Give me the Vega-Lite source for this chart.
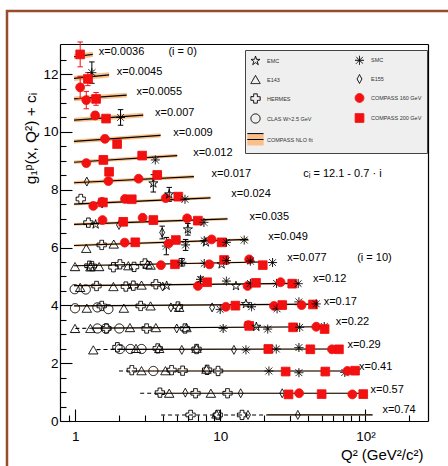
{
 "$schema": "https://vega.github.io/schema/vega-lite/v6.json",
 "width": 441, "height": 455,
 "autosize": {"type": "none"},
 "padding": {"left": 7, "top": 11, "right": 0, "bottom": 0},
 "background": "white",
 "config": {
  "font": "Liberation Sans",
  "view": {"stroke": "#9c4a2c", "strokeWidth": 2.5, "strokeDash": [441, 896, 455]},
  "axis": {"grid": false, "domainColor": "black", "tickColor": "black", "labelColor": "black", "titleColor": "black", "labelFont": "Liberation Sans", "titleFont": "Liberation Sans", "titleFontWeight": "normal", "domainWidth": 1.2, "tickWidth": 1.1}
 },
 "datasets": {
  "fits": [
   {"bin":0,"seg":"fit","q":0.98,"y":12.60,"lo":12.51,"hi":12.69},{"bin":0,"seg":"fit","q":1.32,"y":12.68,"lo":12.59,"hi":12.77},
   {"bin":1,"seg":"fit","q":0.98,"y":11.85,"lo":11.76,"hi":11.94},{"bin":1,"seg":"fit","q":1.71,"y":11.97,"lo":11.88,"hi":12.06},
   {"bin":2,"seg":"fit","q":0.98,"y":11.14,"lo":11.06,"hi":11.22},{"bin":2,"seg":"fit","q":2.26,"y":11.27,"lo":11.19,"hi":11.35},
   {"bin":3,"seg":"fit","q":0.98,"y":10.41,"lo":10.33,"hi":10.49},{"bin":3,"seg":"fit","q":2.94,"y":10.58,"lo":10.50,"hi":10.66},
   {"bin":4,"seg":"fit","q":0.98,"y":9.67,"lo":9.60,"hi":9.74},{"bin":4,"seg":"fit","q":3.87,"y":9.88,"lo":9.81,"hi":9.95},
   {"bin":5,"seg":"fit","q":0.98,"y":8.95,"lo":8.89,"hi":9.01},{"bin":5,"seg":"fit","q":5.04,"y":9.18,"lo":9.12,"hi":9.24},
   {"bin":6,"seg":"fit","q":0.98,"y":8.24,"lo":8.18,"hi":8.30},{"bin":6,"seg":"fit","q":6.57,"y":8.45,"lo":8.39,"hi":8.51},
   {"bin":7,"seg":"fit","q":0.98,"y":7.50,"lo":7.45,"hi":7.55},{"bin":7,"seg":"fit","q":8.55,"y":7.72,"lo":7.67,"hi":7.77},
   {"bin":8,"seg":"fit","q":0.98,"y":6.80,"lo":6.75,"hi":6.85},{"bin":8,"seg":"fit","q":11.2,"y":6.99,"lo":6.94,"hi":7.04},
   {"bin":9,"seg":"fit","q":0.98,"y":6.07,"lo":6.03,"hi":6.11},{"bin":9,"seg":"fit","q":15.5,"y":6.28,"lo":6.24,"hi":6.32},
   {"bin":10,"seg":"fit","q":0.98,"y":5.37,"lo":5.34,"hi":5.40},{"bin":10,"seg":"fit","q":19.5,"y":5.50,"lo":5.47,"hi":5.53},
   {"bin":11,"seg":"fit","q":0.98,"y":4.68,"lo":4.65,"hi":4.71},{"bin":11,"seg":"fit","q":35,"y":4.76,"lo":4.73,"hi":4.79},
   {"bin":12,"seg":"fit","q":0.98,"y":3.98,"lo":3.955,"hi":4.005},{"bin":12,"seg":"fit","q":46,"y":4.04,"lo":4.015,"hi":4.065},
   {"bin":13,"seg":"extrap","q":1.0,"y":3.20},{"bin":13,"seg":"extrap","q":1.3,"y":3.21},
   {"bin":13,"seg":"fit","q":1.3,"y":3.21,"lo":3.19,"hi":3.23},{"bin":13,"seg":"fit","q":56,"y":3.26,"lo":3.24,"hi":3.28},
   {"bin":14,"seg":"extrap","q":1.4,"y":2.47},{"bin":14,"seg":"extrap","q":1.95,"y":2.48},
   {"bin":14,"seg":"fit","q":1.95,"y":2.48,"lo":2.46,"hi":2.50},{"bin":14,"seg":"fit","q":70,"y":2.49,"lo":2.47,"hi":2.51},
   {"bin":15,"seg":"extrap","q":2.0,"y":1.73},{"bin":15,"seg":"extrap","q":2.45,"y":1.73},
   {"bin":15,"seg":"fit","q":2.45,"y":1.73,"lo":1.71,"hi":1.75},{"bin":15,"seg":"fit","q":86,"y":1.73,"lo":1.71,"hi":1.75},
   {"bin":16,"seg":"extrap","q":2.8,"y":0.96},{"bin":16,"seg":"extrap","q":3.6,"y":0.96},
   {"bin":16,"seg":"fit","q":3.6,"y":0.96,"lo":0.94,"hi":0.98},{"bin":16,"seg":"fit","q":101,"y":0.96,"lo":0.94,"hi":0.98},
   {"bin":17,"seg":"extrap","q":3.9,"y":0.21},{"bin":17,"seg":"extrap","q":21,"y":0.21},
   {"bin":17,"seg":"fit","q":21,"y":0.21,"lo":0.19,"hi":0.23},{"bin":17,"seg":"fit","q":112,"y":0.21,"lo":0.19,"hi":0.23}
  ],
  "pts": [
   {"bin":0,"exp":"COMPASS 200 GeV","q":1.08,"y":12.68,"elo":12.25,"ehi":13.11},
   {"bin":1,"exp":"SMC","q":1.30,"y":12.05,"elo":11.68,"ehi":12.42},
   {"bin":1,"exp":"COMPASS 200 GeV","q":1.22,"y":11.83,"elo":11.6,"ehi":12.05},
   {"bin":1,"exp":"COMPASS 160 GeV","q":1.08,"y":11.54,"elo":11.15,"ehi":11.92},
   {"bin":2,"exp":"COMPASS 160 GeV","q":1.19,"y":11.10,"elo":10.8,"ehi":11.4},
   {"bin":2,"exp":"COMPASS 200 GeV","q":1.39,"y":11.14,"elo":10.92,"ehi":11.36},
   {"bin":3,"exp":"COMPASS 160 GeV","q":1.37,"y":10.57,"elo":10.45,"ehi":10.69},
   {"bin":3,"exp":"COMPASS 200 GeV","q":1.63,"y":10.46,"elo":10.38,"ehi":10.54},
   {"bin":3,"exp":"SMC","q":2.05,"y":10.50,"elo":10.23,"ehi":10.77},
   {"bin":4,"exp":"COMPASS 160 GeV","q":1.60,"y":9.76,"elo":9.66,"ehi":9.86},
   {"bin":4,"exp":"COMPASS 200 GeV","q":1.94,"y":9.58},
   {"bin":5,"exp":"COMPASS 160 GeV","q":1.19,"y":8.92},
   {"bin":5,"exp":"COMPASS 200 GeV","q":1.56,"y":9.03},
   {"bin":5,"exp":"COMPASS 200 GeV","q":2.89,"y":9.18},
   {"bin":5,"exp":"SMC","q":3.56,"y":9.03},
   {"bin":6,"exp":"E155","q":1.20,"y":8.28},
   {"bin":6,"exp":"COMPASS 160 GeV","q":1.69,"y":8.30},
   {"bin":6,"exp":"COMPASS 200 GeV","q":1.71,"y":8.62},
   {"bin":6,"exp":"COMPASS 160 GeV","q":2.73,"y":8.38},
   {"bin":6,"exp":"EMC","q":3.45,"y":8.22,"elo":7.92,"ehi":8.52},
   {"bin":6,"exp":"COMPASS 200 GeV","q":3.67,"y":8.51},
   {"bin":7,"exp":"HERMES","q":1.09,"y":7.68},
   {"bin":7,"exp":"COMPASS 160 GeV","q":1.33,"y":7.44},
   {"bin":7,"exp":"E155","q":1.53,"y":7.52},
   {"bin":7,"exp":"COMPASS 160 GeV","q":1.53,"y":7.58},
   {"bin":7,"exp":"COMPASS 200 GeV","q":1.55,"y":7.56},
   {"bin":7,"exp":"COMPASS 160 GeV","q":2.20,"y":7.68},
   {"bin":7,"exp":"COMPASS 200 GeV","q":2.45,"y":7.67},
   {"bin":7,"exp":"COMPASS 160 GeV","q":4.20,"y":7.71},
   {"bin":7,"exp":"EMC","q":4.44,"y":7.84,"elo":7.60,"ehi":8.08},
   {"bin":7,"exp":"COMPASS 200 GeV","q":5.13,"y":7.76},
   {"bin":7,"exp":"SMC","q":5.70,"y":7.67},
   {"bin":8,"exp":"HERMES","q":1.23,"y":6.86},
   {"bin":8,"exp":"EMC","q":1.38,"y":6.80},
   {"bin":8,"exp":"COMPASS 160 GeV","q":1.54,"y":6.95},
   {"bin":8,"exp":"E155","q":2.00,"y":6.78},
   {"bin":8,"exp":"COMPASS 200 GeV","q":2.14,"y":6.89},
   {"bin":8,"exp":"COMPASS 160 GeV","q":2.91,"y":7.03},
   {"bin":8,"exp":"COMPASS 200 GeV","q":3.45,"y":6.95,"elo":6.85,"ehi":7.07},
   {"bin":8,"exp":"E155","q":3.97,"y":6.52,"elo":6.30,"ehi":6.74},
   {"bin":8,"exp":"COMPASS 160 GeV","q":5.90,"y":7.01},
   {"bin":8,"exp":"EMC","q":5.97,"y":6.63,"elo":6.43,"ehi":6.83},
   {"bin":8,"exp":"COMPASS 200 GeV","q":7.00,"y":6.93},
   {"bin":8,"exp":"SMC","q":7.70,"y":6.87},
   {"bin":9,"exp":"E143","q":1.19,"y":5.97},
   {"bin":9,"exp":"HERMES","q":1.52,"y":6.09},
   {"bin":9,"exp":"E143","q":1.84,"y":6.12},
   {"bin":9,"exp":"COMPASS 160 GeV","q":2.19,"y":6.17},
   {"bin":9,"exp":"COMPASS 200 GeV","q":2.59,"y":6.18},
   {"bin":9,"exp":"SMC","q":4.24,"y":6.05,"elo":5.75,"ehi":6.35},
   {"bin":9,"exp":"COMPASS 160 GeV","q":4.40,"y":6.14},
   {"bin":9,"exp":"COMPASS 200 GeV","q":4.93,"y":6.26},
   {"bin":9,"exp":"SMC","q":5.76,"y":6.09,"elo":5.90,"ehi":6.28},
   {"bin":9,"exp":"SMC","q":7.74,"y":6.24},
   {"bin":9,"exp":"EMC","q":7.95,"y":6.18},
   {"bin":9,"exp":"COMPASS 160 GeV","q":8.70,"y":6.28},
   {"bin":9,"exp":"COMPASS 200 GeV","q":10.2,"y":6.18},
   {"bin":9,"exp":"SMC","q":11.0,"y":6.18},
   {"bin":9,"exp":"SMC","q":14.6,"y":6.26},
   {"bin":10,"exp":"E143","q":0.995,"y":5.34},
   {"bin":10,"exp":"HERMES","q":1.25,"y":5.37},
   {"bin":10,"exp":"E143","q":1.27,"y":5.33},
   {"bin":10,"exp":"HERMES","q":1.30,"y":5.36},
   {"bin":10,"exp":"E143","q":1.46,"y":5.34},
   {"bin":10,"exp":"HERMES","q":1.83,"y":5.32},
   {"bin":10,"exp":"HERMES","q":2.03,"y":5.42},
   {"bin":10,"exp":"E143","q":2.32,"y":5.37},
   {"bin":10,"exp":"HERMES","q":2.54,"y":5.33},
   {"bin":10,"exp":"HERMES","q":3.02,"y":5.45},
   {"bin":10,"exp":"E143","q":3.15,"y":5.42},
   {"bin":10,"exp":"E143","q":3.30,"y":5.39},
   {"bin":10,"exp":"COMPASS 160 GeV","q":3.89,"y":5.39},
   {"bin":10,"exp":"COMPASS 200 GeV","q":4.86,"y":5.42},
   {"bin":10,"exp":"SMC","q":5.43,"y":5.49,"elo":5.36,"ehi":5.62},
   {"bin":10,"exp":"SMC","q":7.74,"y":5.45},
   {"bin":10,"exp":"COMPASS 160 GeV","q":8.40,"y":5.42},
   {"bin":10,"exp":"EMC","q":10.2,"y":5.42},
   {"bin":10,"exp":"COMPASS 200 GeV","q":10.6,"y":5.57},
   {"bin":10,"exp":"SMC","q":11.0,"y":5.55},
   {"bin":10,"exp":"COMPASS 160 GeV","q":15.8,"y":5.59},
   {"bin":10,"exp":"SMC","q":16.1,"y":5.53},
   {"bin":10,"exp":"COMPASS 200 GeV","q":19.6,"y":5.39},
   {"bin":10,"exp":"SMC","q":22.9,"y":5.48},
   {"bin":11,"exp":"CLAS W>2.5 GeV","q":0.99,"y":4.56},
   {"bin":11,"exp":"E143","q":1.08,"y":4.62},
   {"bin":11,"exp":"CLAS W>2.5 GeV","q":1.18,"y":4.55},
   {"bin":11,"exp":"HERMES","q":1.40,"y":4.67},
   {"bin":11,"exp":"E143","q":1.83,"y":4.65},
   {"bin":11,"exp":"HERMES","q":2.23,"y":4.65},
   {"bin":11,"exp":"HERMES","q":2.51,"y":4.68},
   {"bin":11,"exp":"E143","q":2.86,"y":4.70},
   {"bin":11,"exp":"HERMES","q":3.59,"y":4.73},
   {"bin":11,"exp":"E155","q":4.00,"y":4.65},
   {"bin":11,"exp":"EMC","q":4.26,"y":4.68},
   {"bin":11,"exp":"COMPASS 160 GeV","q":7.00,"y":4.67},
   {"bin":11,"exp":"SMC","q":7.30,"y":4.90,"elo":4.82,"ehi":4.98},
   {"bin":11,"exp":"COMPASS 200 GeV","q":8.10,"y":4.80},
   {"bin":11,"exp":"SMC","q":11.0,"y":4.84},
   {"bin":11,"exp":"EMC","q":12.8,"y":4.67},
   {"bin":11,"exp":"COMPASS 160 GeV","q":15.4,"y":4.67},
   {"bin":11,"exp":"SMC","q":16.1,"y":4.76},
   {"bin":11,"exp":"COMPASS 200 GeV","q":17.6,"y":4.78},
   {"bin":11,"exp":"SMC","q":24.4,"y":4.76},
   {"bin":11,"exp":"COMPASS 160 GeV","q":26.0,"y":4.80},
   {"bin":11,"exp":"COMPASS 200 GeV","q":31.3,"y":4.75},
   {"bin":11,"exp":"SMC","q":34.4,"y":4.75},
   {"bin":12,"exp":"CLAS W>2.5 GeV","q":0.995,"y":3.90},
   {"bin":12,"exp":"E143","q":1.20,"y":3.90},
   {"bin":12,"exp":"CLAS W>2.5 GeV","q":1.42,"y":3.93},
   {"bin":12,"exp":"HERMES","q":1.52,"y":3.98},
   {"bin":12,"exp":"CLAS W>2.5 GeV","q":1.69,"y":3.87},
   {"bin":12,"exp":"E143","q":2.16,"y":3.90},
   {"bin":12,"exp":"HERMES","q":2.82,"y":3.98},
   {"bin":12,"exp":"E143","q":3.30,"y":3.98},
   {"bin":12,"exp":"E155","q":4.56,"y":3.93},
   {"bin":12,"exp":"HERMES","q":5.10,"y":3.96},
   {"bin":12,"exp":"E143","q":5.20,"y":3.93},
   {"bin":12,"exp":"E155","q":8.77,"y":3.93},
   {"bin":12,"exp":"SMC","q":9.97,"y":3.86},
   {"bin":12,"exp":"COMPASS 160 GeV","q":10.9,"y":3.95},
   {"bin":12,"exp":"COMPASS 200 GeV","q":12.7,"y":3.99},
   {"bin":12,"exp":"EMC","q":15.0,"y":4.05},
   {"bin":12,"exp":"SMC","q":16.4,"y":3.95},
   {"bin":12,"exp":"COMPASS 160 GeV","q":23.4,"y":3.98},
   {"bin":12,"exp":"SMC","q":24.6,"y":3.88},
   {"bin":12,"exp":"COMPASS 200 GeV","q":26.7,"y":4.01},
   {"bin":12,"exp":"SMC","q":34.8,"y":4.12},
   {"bin":12,"exp":"COMPASS 160 GeV","q":36.3,"y":4.01},
   {"bin":12,"exp":"COMPASS 200 GeV","q":43.5,"y":4.03},
   {"bin":12,"exp":"SMC","q":45.8,"y":4.05},
   {"bin":13,"exp":"E143","q":0.995,"y":3.20},
   {"bin":13,"exp":"E143","q":1.27,"y":3.20},
   {"bin":13,"exp":"CLAS W>2.5 GeV","q":1.42,"y":3.20},
   {"bin":13,"exp":"CLAS W>2.5 GeV","q":1.62,"y":3.20},
   {"bin":13,"exp":"HERMES","q":1.64,"y":3.20},
   {"bin":13,"exp":"CLAS W>2.5 GeV","q":2.01,"y":3.20},
   {"bin":13,"exp":"E143","q":2.38,"y":3.23},
   {"bin":13,"exp":"HERMES","q":3.10,"y":3.20},
   {"bin":13,"exp":"E143","q":3.59,"y":3.23},
   {"bin":13,"exp":"E155","q":5.00,"y":3.20},
   {"bin":13,"exp":"HERMES","q":5.70,"y":3.20},
   {"bin":13,"exp":"E143","q":5.84,"y":3.23},
   {"bin":13,"exp":"SMC","q":10.45,"y":3.20},
   {"bin":13,"exp":"COMPASS 160 GeV","q":15.6,"y":3.32},
   {"bin":13,"exp":"COMPASS 200 GeV","q":15.8,"y":3.29},
   {"bin":13,"exp":"EMC","q":17.7,"y":3.26},
   {"bin":13,"exp":"SMC","q":21.2,"y":3.18},
   {"bin":13,"exp":"COMPASS 200 GeV","q":31.7,"y":3.24},
   {"bin":13,"exp":"SMC","q":35.2,"y":3.24},
   {"bin":13,"exp":"COMPASS 160 GeV","q":45.8,"y":3.26},
   {"bin":13,"exp":"SMC","q":52.0,"y":3.27},
   {"bin":13,"exp":"COMPASS 200 GeV","q":52.3,"y":3.18},
   {"bin":14,"exp":"E143","q":1.33,"y":2.46},
   {"bin":14,"exp":"HERMES","q":1.95,"y":2.55},
   {"bin":14,"exp":"CLAS W>2.5 GeV","q":2.03,"y":2.49},
   {"bin":14,"exp":"CLAS W>2.5 GeV","q":2.40,"y":2.49},
   {"bin":14,"exp":"E143","q":2.62,"y":2.51},
   {"bin":14,"exp":"CLAS W>2.5 GeV","q":2.86,"y":2.49},
   {"bin":14,"exp":"HERMES","q":3.70,"y":2.51},
   {"bin":14,"exp":"E143","q":3.79,"y":2.51},
   {"bin":14,"exp":"E155","q":5.42,"y":2.46},
   {"bin":14,"exp":"HERMES","q":6.85,"y":2.49},
   {"bin":14,"exp":"E143","q":6.85,"y":2.51},
   {"bin":14,"exp":"E155","q":12.4,"y":2.46},
   {"bin":14,"exp":"SMC","q":15.0,"y":2.46},
   {"bin":14,"exp":"COMPASS 200 GeV","q":21.4,"y":2.49},
   {"bin":14,"exp":"SMC","q":24.3,"y":2.49},
   {"bin":14,"exp":"SMC","q":34.8,"y":2.54},
   {"bin":14,"exp":"COMPASS 200 GeV","q":41.7,"y":2.48},
   {"bin":14,"exp":"COMPASS 160 GeV","q":58.8,"y":2.48},
   {"bin":14,"exp":"COMPASS 200 GeV","q":65.7,"y":2.48},
   {"bin":15,"exp":"HERMES","q":2.45,"y":1.76},
   {"bin":15,"exp":"E143","q":2.86,"y":1.74},
   {"bin":15,"exp":"CLAS W>2.5 GeV","q":3.45,"y":1.73},
   {"bin":15,"exp":"E143","q":4.18,"y":1.74},
   {"bin":15,"exp":"HERMES","q":4.61,"y":1.76},
   {"bin":15,"exp":"HERMES","q":5.49,"y":1.74},
   {"bin":15,"exp":"E143","q":8.02,"y":1.79},
   {"bin":15,"exp":"HERMES","q":8.10,"y":1.77},
   {"bin":15,"exp":"HERMES","q":9.64,"y":1.73},
   {"bin":15,"exp":"SMC","q":21.6,"y":1.73},
   {"bin":15,"exp":"COMPASS 200 GeV","q":28.2,"y":1.71},
   {"bin":15,"exp":"SMC","q":34.8,"y":1.67},
   {"bin":15,"exp":"COMPASS 200 GeV","q":52.9,"y":1.71},
   {"bin":15,"exp":"SMC","q":72.1,"y":1.68},
   {"bin":15,"exp":"COMPASS 160 GeV","q":75.1,"y":1.73},
   {"bin":15,"exp":"COMPASS 200 GeV","q":84.9,"y":1.74},
   {"bin":16,"exp":"HERMES","q":3.83,"y":0.98},
   {"bin":16,"exp":"E143","q":4.44,"y":0.96},
   {"bin":16,"exp":"E155","q":5.73,"y":0.98},
   {"bin":16,"exp":"HERMES","q":6.74,"y":0.96},
   {"bin":16,"exp":"E143","q":8.60,"y":0.96},
   {"bin":16,"exp":"HERMES","q":11.2,"y":0.96},
   {"bin":16,"exp":"E155","q":13.8,"y":0.96},
   {"bin":16,"exp":"E155","q":26.7,"y":0.96},
   {"bin":16,"exp":"COMPASS 200 GeV","q":29.5,"y":0.92},
   {"bin":16,"exp":"COMPASS 160 GeV","q":34.9,"y":0.96},
   {"bin":16,"exp":"COMPASS 200 GeV","q":49.9,"y":0.93},
   {"bin":16,"exp":"COMPASS 160 GeV","q":81.2,"y":0.92},
   {"bin":16,"exp":"COMPASS 200 GeV","q":96.6,"y":0.93},
   {"bin":17,"exp":"HERMES","q":6.23,"y":0.21},
   {"bin":17,"exp":"E143","q":9.40,"y":0.24},
   {"bin":17,"exp":"HERMES","q":9.60,"y":0.21},
   {"bin":17,"exp":"HERMES","q":14.1,"y":0.21},
   {"bin":17,"exp":"E155","q":15.5,"y":0.21},
   {"bin":17,"exp":"E155","q":34.2,"y":0.21}
  ],
  "labels": [
   {"text":"x=0.0036","q":1.45,"y":12.75},
   {"text":"(i = 0)","q":4.38,"y":12.75},
   {"text":"x=0.0045","q":1.93,"y":12.06},
   {"text":"x=0.0055","q":2.64,"y":11.37},
   {"text":"x=0.007","q":3.54,"y":10.67},
   {"text":"x=0.009","q":4.73,"y":9.95},
   {"text":"x=0.012","q":6.49,"y":9.26},
   {"text":"x=0.017","q":8.7,"y":8.56},
   {"text":"cᵢ = 12.1 - 0.7 · i","q":37.2,"y":8.56},
   {"text":"x=0.024","q":11.9,"y":7.84},
   {"text":"x=0.035","q":15.9,"y":7.07},
   {"text":"x=0.049","q":21.4,"y":6.35},
   {"text":"x=0.077","q":28.9,"y":5.63},
   {"text":"(i = 10)","q":87.7,"y":5.63},
   {"text":"x=0.12","q":43.5,"y":4.90},
   {"text":"x=0.17","q":51.5,"y":4.13},
   {"text":"x=0.22","q":62.5,"y":3.41},
   {"text":"x=0.29","q":75.1,"y":2.63},
   {"text":"x=0.41","q":90.3,"y":1.86},
   {"text":"x=0.57","q":108.3,"y":1.07},
   {"text":"x=0.74","q":130.9,"y":0.38}
  ]
 },
 "layer": [
  {
   "data": {"name": "fits"},
   "transform": [{"filter": "datum.seg === 'fit'"}],
   "mark": {"type": "area", "color": "#f9c08a", "opacity": 1},
   "encoding": {
    "x": {"field": "q", "type": "quantitative", "scale": {"type": "log", "domain": [0.784, 270], "range": [53, 421], "nice": false},
     "axis": {"orient": "bottom", "offset": -45, "values": [1, 10, 100], "tickSize": -12, "labelPadding": 20, "labelFontSize": 13.5, "labelFlush": false, "labelOverlap": false,
      "labelExpr": "datum.value >= 100 ? '10²' : datum.value >= 10 ? '10' : '1'",
      "title": "Q² (GeV²/c²)", "titleFontSize": 15, "titleX": 416, "titleY": 38, "titleAlign": "right", "titleBaseline": "alphabetic"}},
    "y": {"field": "lo", "type": "quantitative", "scale": {"type": "linear", "domain": [0, 13.04], "range": [410, 33], "nice": false, "zero": false},
     "axis": {"orient": "left", "offset": -53, "values": [0, 2, 4, 6, 8, 10, 12], "tickSize": -12, "labelPadding": 14, "labelFontSize": 13.5, "labelFlush": false, "labelOverlap": false,
      "title": "g₁ᵖ(x, Q²) + cᵢ", "titleFontSize": 15.5, "titleX": -30, "titleY": 127, "titleAlign": "center", "titleAngle": 270, "titleBaseline": "middle"}},
    "y2": {"field": "hi"},
    "detail": {"field": "bin"}
   }
  },
  {
   "data": {"name": "fits"},
   "transform": [{"filter": "datum.seg === 'fit'"}],
   "mark": {"type": "line", "color": "black", "strokeWidth": 1.2},
   "encoding": {
    "x": {"field": "q", "type": "quantitative", "scale": {"type": "log", "domain": [0.784, 270], "range": [53, 421], "nice": false},
     "axis": {"orient": "bottom", "offset": -45, "values": [0.9, 2, 3, 4, 5, 6, 7, 8, 9, 20, 30, 40, 50, 60, 70, 80, 90, 200], "tickSize": -6, "labels": false, "domain": false, "title": null}},
    "y": {"field": "y", "type": "quantitative", "scale": {"type": "linear", "domain": [0, 13.04], "range": [410, 33], "nice": false, "zero": false},
     "axis": {"orient": "left", "offset": -53, "values": [0.5, 1, 1.5, 2.5, 3, 3.5, 4.5, 5, 5.5, 6.5, 7, 7.5, 8.5, 9, 9.5, 10.5, 11, 11.5, 12.5], "tickSize": -6, "labels": false, "domain": false, "title": null}},
    "detail": {"field": "bin"}
   }
  },
  {
   "data": {"name": "fits"},
   "transform": [{"filter": "datum.seg === 'extrap'"}],
   "mark": {"type": "line", "color": "black", "strokeWidth": 1.1, "strokeDash": [4, 3]},
   "encoding": {
    "x": {"field": "q", "type": "quantitative", "scale": {"type": "log", "domain": [0.784, 270], "range": [53, 421], "nice": false}, "axis": null},
    "y": {"field": "y", "type": "quantitative", "scale": {"type": "linear", "domain": [0, 13.04], "range": [410, 33], "nice": false, "zero": false}, "axis": null},
    "detail": {"field": "bin"}
   }
  },
  {
   "data": {"name": "pts"},
   "transform": [{"filter": "isValid(datum.elo)"}],
   "mark": {"type": "rule", "strokeWidth": 1},
   "encoding": {
    "x": {"field": "q", "type": "quantitative", "scale": {"type": "log", "domain": [0.784, 270], "range": [53, 421], "nice": false}, "axis": null},
    "y": {"field": "elo", "type": "quantitative", "scale": {"type": "linear", "domain": [0, 13.04], "range": [410, 33], "nice": false, "zero": false}, "axis": null},
    "y2": {"field": "ehi"},
    "color": {"condition": {"test": "indexof(datum.exp, 'COMPASS') >= 0", "value": "#f21010"}, "value": "black"}
   }
  },
  {
   "data": {"name": "pts"},
   "transform": [{"filter": "isValid(datum.elo)"}],
   "mark": {"type": "point", "shape": "stroke", "size": 30, "strokeWidth": 1, "opacity": 1},
   "encoding": {
    "x": {"field": "q", "type": "quantitative", "scale": {"type": "log", "domain": [0.784, 270], "range": [53, 421], "nice": false}, "axis": null},
    "y": {"field": "elo", "type": "quantitative", "scale": {"type": "linear", "domain": [0, 13.04], "range": [410, 33], "nice": false, "zero": false}, "axis": null},
    "color": {"condition": {"test": "indexof(datum.exp, 'COMPASS') >= 0", "value": "#f21010"}, "value": "black"}
   }
  },
  {
   "data": {"name": "pts"},
   "transform": [{"filter": "isValid(datum.ehi)"}],
   "mark": {"type": "point", "shape": "stroke", "size": 30, "strokeWidth": 1, "opacity": 1},
   "encoding": {
    "x": {"field": "q", "type": "quantitative", "scale": {"type": "log", "domain": [0.784, 270], "range": [53, 421], "nice": false}, "axis": null},
    "y": {"field": "ehi", "type": "quantitative", "scale": {"type": "linear", "domain": [0, 13.04], "range": [410, 33], "nice": false, "zero": false}, "axis": null},
    "color": {"condition": {"test": "indexof(datum.exp, 'COMPASS') >= 0", "value": "#f21010"}, "value": "black"}
   }
  },
  {
   "data": {"name": "pts"},
   "mark": {"type": "point", "strokeWidth": 1, "opacity": 1},
   "encoding": {
    "x": {"field": "q", "type": "quantitative", "scale": {"type": "log", "domain": [0.784, 270], "range": [53, 421], "nice": false},
     "axis": {"orient": "top", "offset": -33, "ticks": false, "labels": false, "domain": true, "title": null}},
    "y": {"field": "y", "type": "quantitative", "scale": {"type": "linear", "domain": [0, 13.04], "range": [410, 33], "nice": false, "zero": false},
     "axis": {"orient": "right", "offset": -20, "ticks": false, "labels": false, "domain": true, "title": null}},
    "shape": {"field": "exp", "type": "nominal",
     "scale": {"domain": ["EMC", "E143", "HERMES", "CLAS W>2.5 GeV", "COMPASS NLO fit", "SMC", "E155", "COMPASS 160 GeV", "COMPASS 200 GeV"],
      "range": ["M0,-1L0.224,-0.309L0.951,-0.309L0.363,0.118L0.588,0.809L0,0.382L-0.588,0.809L-0.363,0.118L-0.951,-0.309L-0.224,-0.309Z",
       "triangle-up", "cross", "circle",
       "M-1.8,0L1.8,0M-1.8,-1.3L1.8,-1.3L1.8,1.3L-1.8,1.3Z",
       "M-1,0L1,0M0,-1L0,1M-0.75,-0.75L0.75,0.75M-0.75,0.75L0.75,-0.75",
       "M0,-1L0.55,0L0,1L-0.55,0Z", "circle", "square"]},
     "legend": {"orient": "none", "legendX": 238, "legendY": 39, "title": null, "columns": 2, "padding": 5, "fillColor": "#efefef", "strokeColor": "#444",
      "labelFontSize": 5.5, "labelColor": "#333", "labelOffset": 6, "rowPadding": 5, "columnPadding": 40, "symbolStrokeWidth": 1, "symbolOpacity": 1, "labelLimit": 0,
      "labelExpr": "indexof(['SMC', 'E155', 'COMPASS 160 GeV', 'COMPASS 200 GeV'], datum.value) >= 0 ? datum.label + '\u00a0\u00a0\u00a0\u00a0\u00a0\u00a0\u00a0\u00a0\u00a0\u00a0' : datum.label",
      "encode": {"legend": {"update": {"strokeWidth": {"value": 1.5}}}}}},
    "stroke": {"field": "exp", "type": "nominal",
     "scale": {"domain": ["EMC", "E143", "HERMES", "CLAS W>2.5 GeV", "COMPASS NLO fit", "SMC", "E155", "COMPASS 160 GeV", "COMPASS 200 GeV"],
      "range": ["black", "black", "black", "black", "black", "black", "black", "#f21010", "#f21010"]}},
    "fill": {"field": "exp", "type": "nominal",
     "scale": {"domain": ["EMC", "E143", "HERMES", "CLAS W>2.5 GeV", "COMPASS NLO fit", "SMC", "E155", "COMPASS 160 GeV", "COMPASS 200 GeV"],
      "range": ["transparent", "transparent", "transparent", "transparent", "#f9c08a", "transparent", "transparent", "#f21010", "#f21010"]}},
    "strokeDash": {"field": "exp", "type": "nominal",
     "scale": {"domain": ["EMC", "E143", "HERMES", "CLAS W>2.5 GeV", "COMPASS NLO fit", "SMC", "E155", "COMPASS 160 GeV", "COMPASS 200 GeV"],
      "range": [[1, 0], [1, 0], [1, 0], [1, 0], [16.2, 1000], [1, 0], [1, 0], [1, 0], [1, 0]]}},
    "size": {"field": "exp", "type": "nominal",
     "scale": {"domain": ["EMC", "E143", "HERMES", "CLAS W>2.5 GeV", "COMPASS NLO fit", "SMC", "E155", "COMPASS 160 GeV", "COMPASS 200 GeV"],
      "range": [90, 75, 81, 64, 81, 81, 81, 30, 64]}}
   }
  },
  {
   "data": {"name": "labels"},
   "mark": {"type": "text", "align": "left", "baseline": "middle", "fontSize": 11, "font": "Liberation Sans", "color": "black"},
   "encoding": {
    "x": {"field": "q", "type": "quantitative", "scale": {"type": "log", "domain": [0.784, 270], "range": [53, 421], "nice": false}, "axis": null},
    "y": {"field": "y", "type": "quantitative", "scale": {"type": "linear", "domain": [0, 13.04], "range": [410, 33], "nice": false, "zero": false}, "axis": null},
    "text": {"field": "text"}
   }
  }
 ],
 "resolve": {"axis": {"x": "independent", "y": "independent"}}
}
